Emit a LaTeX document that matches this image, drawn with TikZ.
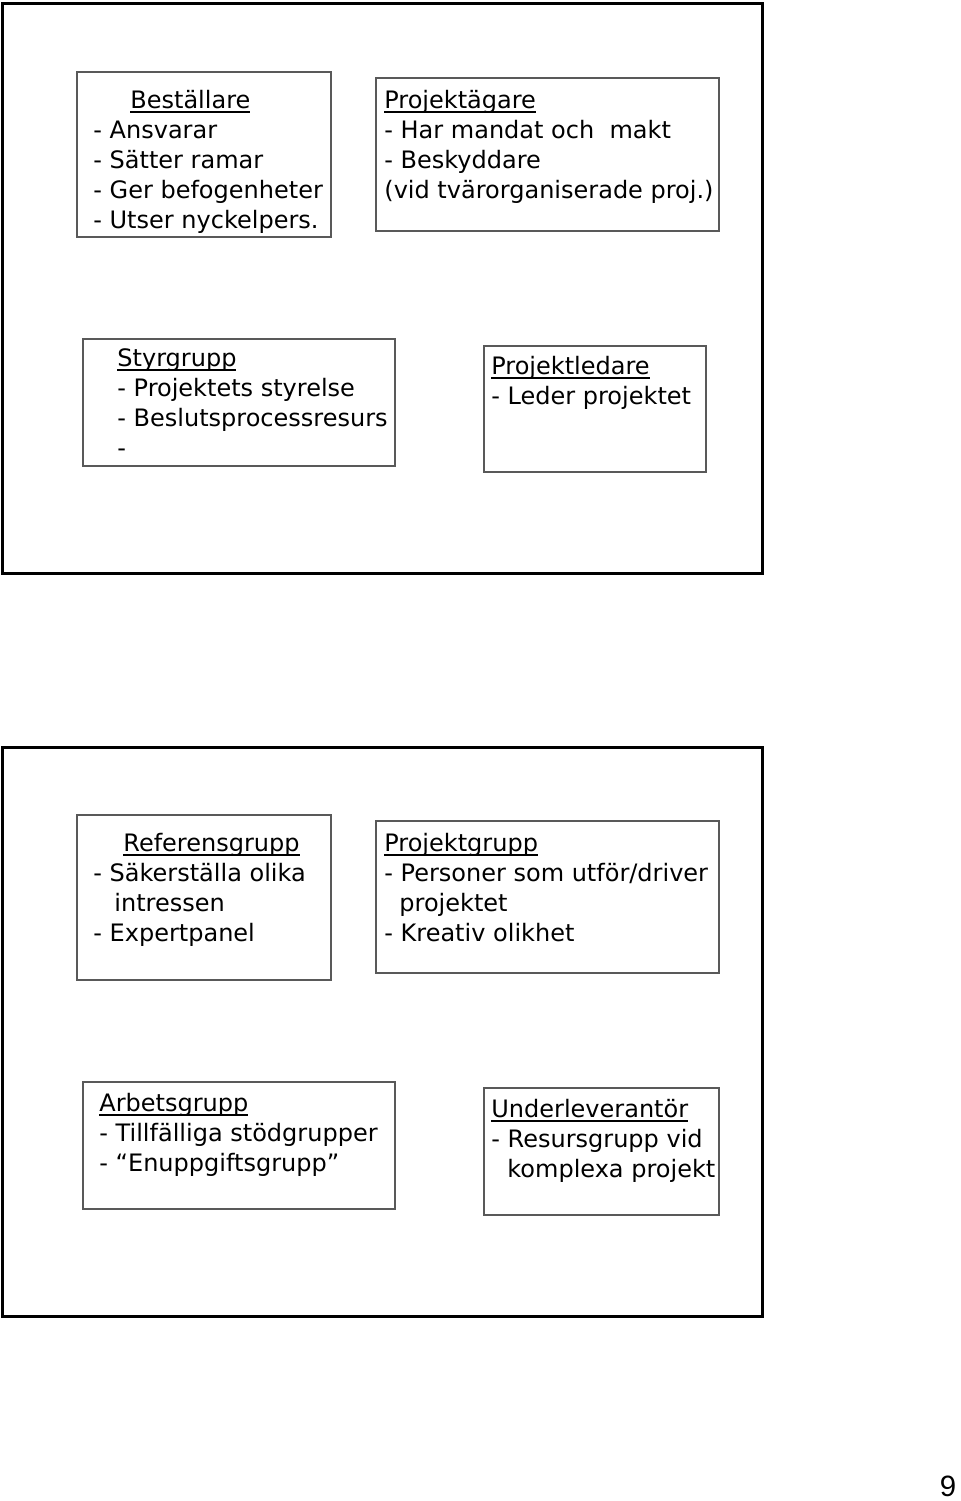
\documentclass[tikz,border=0pt]{standalone}
\usepackage{fontspec}
\setmainfont{DejaVu Sans}
\newfontfamily\sidfont{Liberation Sans}
\newcommand\rubrik[1]{\setbox0\hbox{#1}\rlap{\rule[-2.3pt]{\wd0}{0.9pt}}\box0}
\tikzset{
  ruta/.style={draw=black!65, line width=.6pt},
  rad/.style={anchor=base west, align=left, inner sep=0pt,
    font=\fontsize{12}{15}\selectfont}
}
\begin{document}
\begin{tikzpicture}[x=.5pt,y=-.5pt]
  \useasboundingbox (0,0) rectangle (960,1501);
  \draw[line width=1.5pt] (2,3) rectangle (762,573);
  \draw[line width=1.5pt] (2,747) rectangle (762,1316);

  % forsta bilden (texten sitter med sista radens baslinje)
  \node[ruta,minimum width=127pt,minimum height=82.5pt] (bestallare) at (204,154.5) {};
  \node[rad] (bestallaretext) at (93,228)
    {\hspace{18.5pt}\rubrik{Beställare}\\- Ansvarar\\- Sätter ramar\\- Ger befogenheter\\- Utser nyckelpers.};
  \node[ruta,minimum width=171.5pt,minimum height=76.5pt] (agare) at (547.5,154.5) {};
  \node[rad] (agaretext) at (384,198)
    {\rubrik{Projektägare}\\- Har mandat och\ \ makt\\- Beskyddare\\(vid tvärorganiserade proj.)};
  \node[ruta,minimum width=156pt,minimum height=63.5pt] (styrgrupp) at (239,402.5) {};
  \node[rad] (styrgrupptext) at (117,456)
    {\rubrik{Styrgrupp}\\- Projektets styrelse\\- Beslutsprocessresurs\\-};
  \node[ruta,minimum width=111pt,minimum height=63pt] (ledare) at (595,409) {};
  \node[rad] (ledaretext) at (491,404)
    {\rubrik{Projektledare}\\- Leder projektet};

  % andra bilden
  \node[ruta,minimum width=127pt,minimum height=82.5pt] (referens) at (204,897.5) {};
  \node[rad] (referenstext) at (93,941)
    {\hspace{15pt}\rubrik{Referensgrupp}\\- Säkerställa olika\\\hspace{10.5pt}intressen\\- Expertpanel};
  \node[ruta,minimum width=171.5pt,minimum height=76pt] (projektgrupp) at (547.5,897) {};
  \node[rad] (projektgrupptext) at (384,941)
    {\rubrik{Projektgrupp}\\- Personer som utför/driver\\\hspace{7.5pt}projektet\\- Kreativ olikhet};
  \node[ruta,minimum width=156pt,minimum height=63.5pt] (arbetsgrupp) at (239,1145.5) {};
  \node[rad] (arbetsgrupptext) at (99,1171)
    {\rubrik{Arbetsgrupp}\\- Tillfälliga stödgrupper\\- “Enuppgiftsgrupp”};
  \node[ruta,minimum width=117.5pt,minimum height=63.5pt] (underlev) at (601.5,1151.5) {};
  \node[rad] (underlevtext) at (491,1177)
    {\rubrik{Underleverantör}\\- Resursgrupp vid\\\hspace{8pt}komplexa projekt};

  \node[inner sep=0pt,font=\sidfont\fontsize{14.7}{16}\selectfont] (sida) at (948,1486) {9};
\end{tikzpicture}
\end{document}
